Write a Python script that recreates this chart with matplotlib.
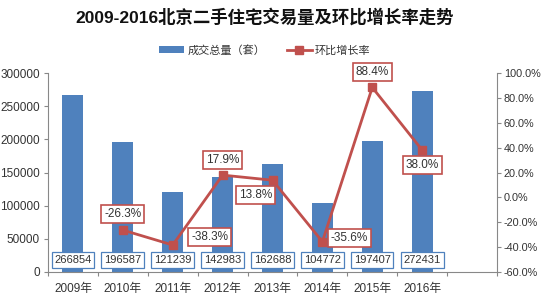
import matplotlib
matplotlib.use("Agg")
import matplotlib.pyplot as plt
import numpy as np

plt.rcParams['font.family'] = ['Liberation Sans', 'Noto Sans CJK SC', 'DejaVu Sans']

years = ['2009年', '2010年', '2011年', '2012年', '2013年', '2014年', '2015年', '2016年']
volume = [266854, 196587, 121239, 142983, 162688, 104772, 197407, 272431]
growth = [None, -26.3, -38.3, 17.9, 13.8, -35.6, 88.4, 38.0]
growth_labels = ['', '-26.3%', '-38.3%', '17.9%', '13.8%', '-35.6%', '88.4%', '38.0%']
# label offsets in pixels (dx, dy) for growth labels
label_offsets = [(0, 0), (0, 16), (37, 8), (0, 15), (-17, -15), (27, 4), (0, 15), (0, -15)]

title = '2009-2016北京二手住宅交易量及环比增长率走势'
bar_name = '成交总量（套）'
line_name = '环比增长率'

blue = '#4F81BD'
red = '#C0504D'

fig = plt.figure(figsize=(5.41, 2.94), dpi=100)
ax = fig.add_axes([48/541, 1-272/294, (497-48)/541, (272-73)/294])
x = np.arange(len(years))
bars = ax.bar(x, volume, width=0.42, color=blue, label=bar_name, zorder=2)
ax.set_ylim(0, 300000)
ax.set_xlim(-0.5, 8.5)
ax.set_yticks(np.arange(0, 300001, 50000))
ax.set_xticks(np.arange(-0.5, 8.6, 1), minor=False)
ax.set_xticklabels([])
ax.set_xticks(x, minor=True)
ax.set_xticklabels(years, minor=True, fontsize=8.5, color='#333333')
ax.tick_params(axis='x', which='minor', length=0, pad=8)
ax.tick_params(axis='x', which='major', length=3, color='#888888', direction='out')
ax.tick_params(axis='y', length=3, color='#888888', labelsize=8.5, labelcolor='#333333', pad=3)
for s in ['top', 'right']:
    ax.spines[s].set_visible(False)
for s in ['left', 'bottom']:
    ax.spines[s].set_color('#888888')
    ax.spines[s].set_linewidth(0.8)

for i, v in enumerate(volume):
    ax.annotate(str(v), xy=(i, 0), xytext=(0, 12), textcoords='offset pixels',
                ha='center', va='center', fontsize=8, color='#333333', zorder=5,
                bbox=dict(boxstyle='square,pad=0.25', fc='white', ec=blue, lw=0.9))

ax2 = ax.twinx()
ax2.set_ylim(-60, 100)
ax2.set_yticks(np.arange(-60, 101, 20))
ax2.set_yticklabels([f'{t:.1f}%' for t in np.arange(-60, 101, 20)])
ax2.tick_params(axis='y', length=3, color='#888888', labelsize=7.8, labelcolor='#333333', pad=2)
for s in ['top', 'left', 'bottom']:
    ax2.spines[s].set_visible(False)
ax2.spines['right'].set_color('#888888')
ax2.spines['right'].set_linewidth(0.8)

gx = [i for i, g in enumerate(growth) if g is not None]
gy = [g for g in growth if g is not None]
ax2.plot(gx, gy, color=red, lw=2, marker='s', markersize=6, label=line_name, zorder=3)
for i, g in enumerate(growth):
    if g is None:
        continue
    dx, dy = label_offsets[i]
    ax2.annotate(growth_labels[i], xy=(i, g), xytext=(dx, dy), textcoords='offset pixels',
                 ha='center', va='center', fontsize=8.5, color='#333333', zorder=6,
                 bbox=dict(boxstyle='square,pad=0.25', fc='white', ec=red, lw=1.2))

fig.text(265/541, 1-17/294, title, ha='center', va='center', fontsize=12.5,
         fontweight='bold', color='#111111',
         family=['Liberation Sans', 'Noto Sans CJK SC'])

h1, l1 = ax.get_legend_handles_labels()
h2, l2 = ax2.get_legend_handles_labels()
fig.legend(h1 + h2, l1 + l2, loc='center', bbox_to_anchor=(265/541, 1-50/294), ncol=2,
           frameon=False, fontsize=8, handlelength=2.2, handleheight=0.5,
           columnspacing=2.0, handletextpad=0.3, labelcolor='#333333')

fig.savefig('out.png', dpi=100)
